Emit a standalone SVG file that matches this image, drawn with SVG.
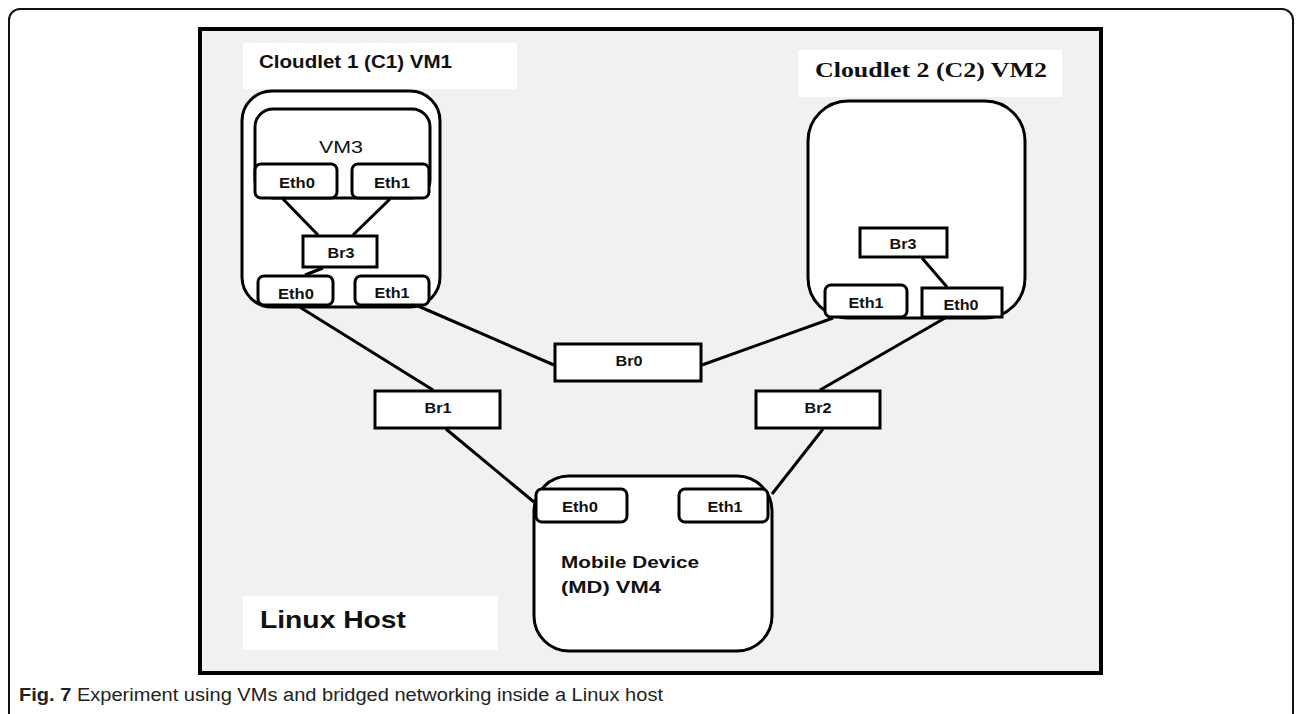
<svg xmlns="http://www.w3.org/2000/svg" width="1296" height="714" viewBox="0 0 1296 714">
<style>
.box{fill:#fff;stroke:#000;stroke-width:3}
.lbl{fill:#fff;stroke:none}
.ln{stroke:#000;stroke-width:3;fill:none}
.t{font-family:"Liberation Sans",Arial,sans-serif;font-weight:bold;font-size:14.5px;fill:#111;text-anchor:middle}
.big{font-family:"Liberation Sans",Arial,sans-serif;font-weight:bold;fill:#111}
</style>
<rect x="0" y="0" width="1296" height="714" fill="#fff"/>
<rect x="9" y="9" width="1284" height="730" rx="11" fill="none" stroke="#111" stroke-width="2"/>
<g id="linux-host">
<rect x="200" y="29" width="901" height="644" fill="#f1f1f1" stroke="#000" stroke-width="4"/>
<rect class="lbl" x="243" y="596" width="255" height="54"/>
<text class="big" x="260" y="628" font-size="24" textLength="146" lengthAdjust="spacingAndGlyphs">Linux Host</text>
</g>
<g id="cloudlet1">
<rect class="lbl" x="243" y="43" width="274" height="46"/>
<text class="big" x="259" y="68" font-size="18" textLength="193" lengthAdjust="spacingAndGlyphs">Cloudlet 1 (C1) VM1</text>
<rect class="box" x="242" y="91" width="198" height="216" rx="30"/>
</g>
<g id="vm3">
<rect class="box" x="255" y="109" width="175" height="89" rx="18"/>
<text x="341" y="153" font-family="Liberation Sans,Arial,sans-serif" font-size="17" fill="#111" text-anchor="middle" textLength="44" lengthAdjust="spacingAndGlyphs">VM3</text>
</g>
<g id="c1-vm3-eth0"><rect class="box" x="255" y="164" width="82" height="34" rx="6"/><text class="t" x="297" y="188" textLength="36" lengthAdjust="spacingAndGlyphs">Eth0</text></g>
<g id="c1-vm3-eth1"><rect class="box" x="352" y="164" width="77" height="34" rx="6"/><text class="t" x="392" y="188" textLength="36" lengthAdjust="spacingAndGlyphs">Eth1</text></g>
<g id="c1-br3"><rect class="box" x="303" y="236" width="74" height="31"/><text class="t" x="341" y="258" textLength="27" lengthAdjust="spacingAndGlyphs">Br3</text></g>
<g id="c1-eth0"><rect class="box" x="258" y="276" width="75" height="29" rx="6"/><text class="t" x="296" y="299" textLength="36" lengthAdjust="spacingAndGlyphs">Eth0</text></g>
<g id="c1-eth1"><rect class="box" x="355" y="276" width="74" height="29" rx="6"/><text class="t" x="392" y="298" textLength="35" lengthAdjust="spacingAndGlyphs">Eth1</text></g>
<g id="cloudlet2">
<rect class="lbl" x="798" y="50" width="264" height="47"/>
<text x="815" y="77" font-family="Liberation Serif,Times New Roman,serif" font-weight="bold" font-size="20" fill="#111" textLength="232" lengthAdjust="spacingAndGlyphs">Cloudlet 2 (C2) VM2</text>
<rect class="box" x="808" y="101" width="217" height="217" rx="40"/>
</g>
<g id="c2-br3"><rect class="box" x="860" y="228" width="87" height="29"/><text class="t" x="903" y="249" textLength="27" lengthAdjust="spacingAndGlyphs">Br3</text></g>
<g id="c2-eth1"><rect class="box" x="825" y="285" width="82" height="32" rx="6"/><text class="t" x="866" y="308" textLength="35" lengthAdjust="spacingAndGlyphs">Eth1</text></g>
<g id="c2-eth0"><rect class="box" x="922" y="288" width="80" height="29"/><text class="t" x="961" y="310" textLength="35" lengthAdjust="spacingAndGlyphs">Eth0</text></g>
<g id="br0"><rect class="box" x="555" y="344" width="146" height="37"/><text class="t" x="629" y="366" textLength="27" lengthAdjust="spacingAndGlyphs">Br0</text></g>
<g id="br1"><rect class="box" x="375" y="391" width="125" height="37"/><text class="t" x="438" y="413" textLength="27" lengthAdjust="spacingAndGlyphs">Br1</text></g>
<g id="br2"><rect class="box" x="756" y="391" width="124" height="37"/><text class="t" x="818" y="413" textLength="27" lengthAdjust="spacingAndGlyphs">Br2</text></g>
<g id="mobile-device">
<rect class="box" x="534" y="476" width="238" height="175" rx="35"/>
<text class="big" x="561" y="568" font-size="17" textLength="138" lengthAdjust="spacingAndGlyphs">Mobile Device</text>
<text class="big" x="561" y="593" font-size="17" textLength="100" lengthAdjust="spacingAndGlyphs">(MD) VM4</text>
</g>
<g id="md-eth0"><rect class="box" x="536" y="489" width="91" height="33" rx="6"/><text class="t" x="580" y="512" textLength="36" lengthAdjust="spacingAndGlyphs">Eth0</text></g>
<g id="md-eth1"><rect class="box" x="679" y="489" width="89" height="33" rx="6"/><text class="t" x="725" y="512" textLength="35" lengthAdjust="spacingAndGlyphs">Eth1</text></g>
<g id="connectors">
<line class="ln" x1="298" y1="306" x2="433" y2="390"/>
<line class="ln" x1="418" y1="306" x2="554" y2="365"/>
<line class="ln" x1="702" y1="365" x2="833" y2="318"/>
<line class="ln" x1="945" y1="318" x2="820" y2="390"/>
<line class="ln" x1="446" y1="429" x2="534" y2="502"/>
<line class="ln" x1="823" y1="429" x2="772" y2="494"/>
<line class="ln" x1="283" y1="199" x2="318" y2="235"/>
<line class="ln" x1="390" y1="199" x2="353" y2="235"/>
<line class="ln" x1="323" y1="268" x2="305" y2="275"/>
<line class="ln" x1="922" y1="258" x2="947" y2="287"/>
</g>
<g id="caption">
<text x="19" y="701" font-family="Liberation Sans,Arial,sans-serif" font-size="18" fill="#222" textLength="644" lengthAdjust="spacingAndGlyphs"><tspan font-weight="bold">Fig. 7</tspan> Experiment using VMs and bridged networking inside a Linux host</text>
</g>
</svg>
